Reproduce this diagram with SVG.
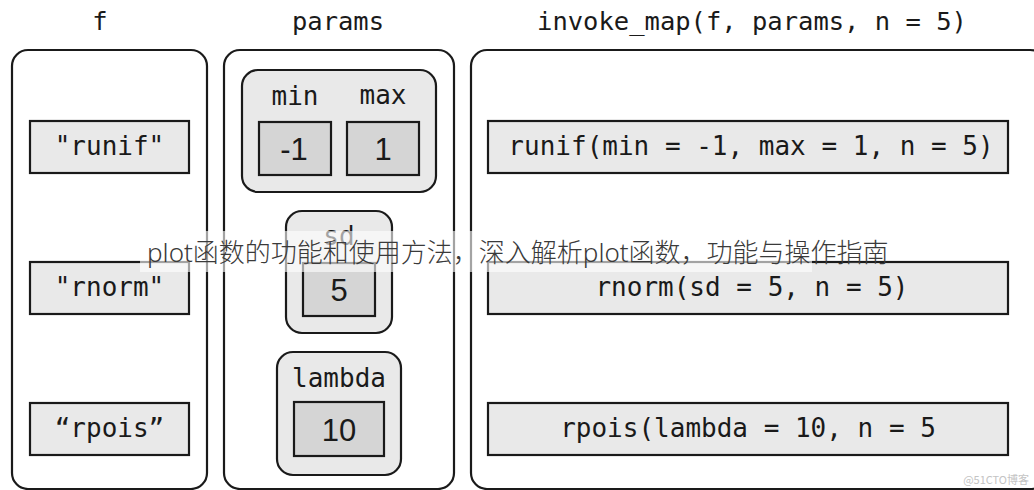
<svg xmlns="http://www.w3.org/2000/svg" width="1034" height="490" viewBox="0 0 1034 490">
<style>
.hdr{font-family:"DejaVu Sans Mono","Liberation Mono",monospace;font-size:25.5px;fill:#1a1a1a;text-anchor:middle}
.mono{font-family:"DejaVu Sans Mono","Liberation Mono",monospace;font-size:26px;fill:#1a1a1a;text-anchor:middle}
.num{font-family:"Liberation Sans",Arial,sans-serif;font-size:31px;fill:#1a1a1a;text-anchor:middle}
.panel{fill:#ffffff;stroke:#1a1a1a;stroke-width:2.2}
.grp{fill:#e9e9e9;stroke:#1a1a1a;stroke-width:2.2}
.box{fill:#e9e9e9;stroke:#1a1a1a;stroke-width:2.2}
.val{fill:#d5d5d5;stroke:#1a1a1a;stroke-width:2.2}
.wm{font-family:"Noto Sans","Noto Sans CJK SC",sans-serif;font-size:26px;fill:#3a3a3a;font-weight:300}
</style>
<rect width="1034" height="490" fill="#ffffff"/>
<g id="headers">
<text class="hdr" x="100" y="30">f</text>
<text class="hdr" x="338" y="30">params</text>
<text class="hdr" x="752" y="30">invoke_map(f, params, n = 5)</text>
</g>
<g id="panel-f">
<rect class="panel" x="12" y="50" width="195" height="439" rx="16"/>
<g id="f-runif"><rect class="box" x="30" y="121" width="159" height="52"/><text class="mono" x="109.5" y="155">"runif"</text></g>
<g id="f-rnorm"><rect class="box" x="30" y="262" width="159" height="52"/><text class="mono" x="109.5" y="296">"rnorm"</text></g>
<g id="f-rpois"><rect class="box" x="30" y="403" width="159" height="52"/><text class="mono" x="109.5" y="437">“rpois”</text></g>
</g>
<g id="panel-params">
<rect class="panel" x="224" y="50" width="230" height="439" rx="16"/>
<g id="p-minmax">
<rect class="grp" x="242" y="70" width="194" height="122" rx="16"/>
<text class="mono" x="295" y="105">min</text>
<text class="mono" x="383" y="104">max</text>
<rect class="val" x="259" y="122" width="72" height="53"/><text class="num" x="294" y="160">-1</text>
<rect class="val" x="347" y="122" width="72" height="53"/><text class="num" x="383" y="160">1</text>
</g>
<g id="p-sd">
<rect class="grp" x="286" y="211" width="106" height="122" rx="16"/>
<text class="mono" x="339" y="245">sd</text>
<rect class="val" x="303" y="263" width="72" height="53"/><text class="num" x="339" y="301">5</text>
</g>
<g id="p-lambda">
<rect class="grp" x="277" y="352" width="124" height="123" rx="16"/>
<text class="mono" x="339" y="387">lambda</text>
<rect class="val" x="294" y="402" width="90" height="54"/><text class="num" x="339" y="441">10</text>
</g>
</g>
<g id="panel-invoke">
<rect class="panel" x="471" y="50" width="575" height="439" rx="16"/>
<g id="r-runif"><rect class="box" x="488" y="121" width="520" height="52"/><text class="mono" x="751" y="155">runif(min = -1, max = 1, n = 5)</text></g>
<g id="r-rnorm"><rect class="box" x="488" y="262" width="520" height="52"/><text class="mono" x="752" y="296">rnorm(sd = 5, n = 5)</text></g>
<g id="r-rpois"><rect class="box" x="488" y="403" width="520" height="52"/><text class="mono" x="748" y="437">rpois(lambda = 10, n = 5</text></g>
</g>
<g id="connectors"></g>
<g id="watermark">
<rect x="140" y="231" width="672" height="41" fill="#ffffff" fill-opacity="0.6"/>
<text class="wm" x="147" y="262">plot函数的功能和使用方法，深入解析plot函数，功能与操作指南</text>
<text x="1029" y="484" font-family="Noto Sans CJK SC,sans-serif" font-size="11" fill="#c4c4c4" text-anchor="end">@51CTO博客</text>
</g>
</svg>
